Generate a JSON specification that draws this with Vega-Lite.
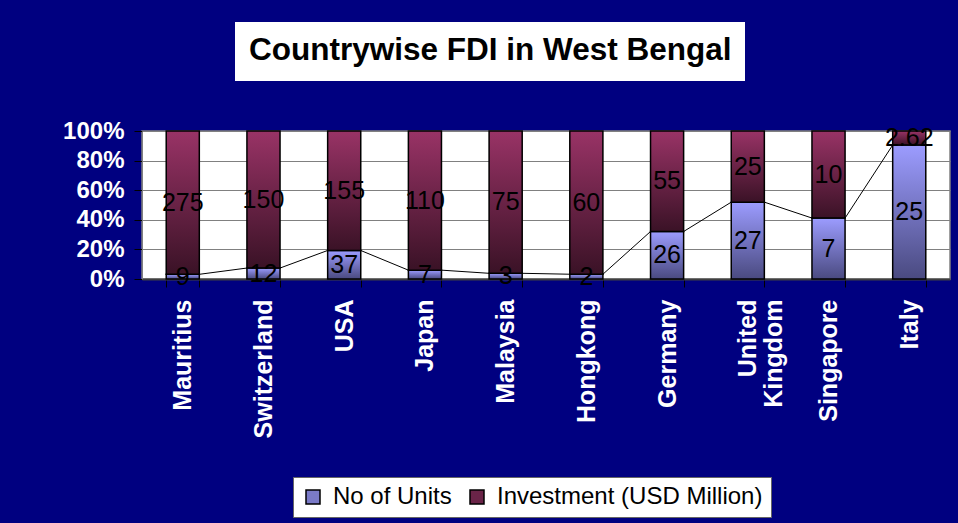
{
  "$schema": "https://vega.github.io/schema/vega-lite/v6.json",
  "background": "#000080",
  "autosize": {"type": "none"},
  "padding": {"left": 142, "top": 131, "right": 8, "bottom": 244},
  "width": 808,
  "height": 148,
  "config": {
    "font": "Liberation Sans",
    "view": {"fill": "white", "stroke": "#808080", "strokeWidth": 1.5},
    "axis": {"labelOverlap": false},
    "axisY": {
      "labelOverlap": false,
      "tickCount": 10,
      "labelColor": "white",
      "labelFont": "Liberation Sans",
      "labelFontSize": 24,
      "labelFontWeight": "bold",
      "labelPadding": 10,
      "tickSize": 8,
      "tickColor": "black",
      "domainColor": "#808080",
      "grid": true,
      "gridColor": "#808080"
    }
  },
  "data": {
    "values": [
      {"country": "Mauritius", "idx": 0, "series": "No of Units", "value": 9},
      {"country": "Mauritius", "idx": 0, "series": "Investment (USD Million)", "value": 275},
      {"country": "Switzerland", "idx": 1, "series": "No of Units", "value": 12},
      {"country": "Switzerland", "idx": 1, "series": "Investment (USD Million)", "value": 150},
      {"country": "USA", "idx": 2, "series": "No of Units", "value": 37},
      {"country": "USA", "idx": 2, "series": "Investment (USD Million)", "value": 155},
      {"country": "Japan", "idx": 3, "series": "No of Units", "value": 7},
      {"country": "Japan", "idx": 3, "series": "Investment (USD Million)", "value": 110},
      {"country": "Malaysia", "idx": 4, "series": "No of Units", "value": 3},
      {"country": "Malaysia", "idx": 4, "series": "Investment (USD Million)", "value": 75},
      {"country": "Hongkong", "idx": 5, "series": "No of Units", "value": 2},
      {"country": "Hongkong", "idx": 5, "series": "Investment (USD Million)", "value": 60},
      {"country": "Germany", "idx": 6, "series": "No of Units", "value": 26},
      {"country": "Germany", "idx": 6, "series": "Investment (USD Million)", "value": 55},
      {"country": "United Kingdom", "idx": 7, "series": "No of Units", "value": 27},
      {"country": "United Kingdom", "idx": 7, "series": "Investment (USD Million)", "value": 25},
      {"country": "Singapore", "idx": 8, "series": "No of Units", "value": 7},
      {"country": "Singapore", "idx": 8, "series": "Investment (USD Million)", "value": 10},
      {"country": "Italy", "idx": 9, "series": "No of Units", "value": 25},
      {"country": "Italy", "idx": 9, "series": "Investment (USD Million)", "value": 2.62}
    ]
  },
  "encoding": {
    "x": {
      "field": "country",
      "type": "nominal",
      "title": null,
      "scale": {
        "domain": ["Mauritius", "Switzerland", "USA", "Japan", "Malaysia", "Hongkong", "Germany", "United Kingdom", "Singapore", "Italy"],
        "paddingInner": 0.59,
        "paddingOuter": 0.3
      },
      "axis": {
        "labelAngle": -90,
        "labelAlign": "right",
        "labelBaseline": "middle",
        "labelColor": "white",
        "labelFont": "Liberation Sans",
        "labelFontSize": 25,
        "labelFontWeight": "bold",
        "labelPadding": 12,
        "labelLineHeight": 26,
        "labelOverlap": false,
        "labelLimit": 0,
        "labelExpr": "datum.label == 'United Kingdom' ? ['United', 'Kingdom'] : datum.label",
        "tickSize": 8,
        "tickColor": "black",
        "tickBand": "extent",
        "domainColor": "#404040",
        "domainWidth": 2
      }
    }
  },
  "layer": [
    {
      "mark": {"type": "bar"},
      "encoding": {
        "y": {
          "field": "value",
          "type": "quantitative",
          "stack": "normalize",
          "scale": {"domain": [0, 1]},
          "axis": {"values": [0, 0.2, 0.4, 0.6, 0.8, 1], "tickCount": 10, "format": ".0%", "labelOverlap": false, "title": null}
        },
        "fill": {
          "field": "series",
          "type": "nominal",
          "scale": {
            "domain": ["No of Units", "Investment (USD Million)"],
            "range": ["#7A7AC8", "#6A2448"]
          },
          "legend": {
            "orient": "none",
            "legendX": 151,
            "legendY": 346,
            "direction": "horizontal",
            "title": null,
            "fillColor": "white",
            "strokeColor": "#666666",
            "padding": 8,
            "symbolType": "square",
            "symbolSize": 196,
            "symbolStrokeColor": "black",
            "symbolStrokeWidth": 1.5,
            "labelFont": "Liberation Sans",
            "labelFontSize": 24,
            "labelColor": "black",
            "labelOffset": 8,
            "labelLimit": 0,
            "columnPadding": 13,
            "encode": {
              "symbols": {
                "update": {
                  "fill": [
                    {"test": "datum.value === 'No of Units'", "value": {"gradient": "linear", "x1": 0, "y1": 0, "x2": 0, "y2": 1, "stops": [{"offset": 0, "color": "#9C9CFF"}, {"offset": 1, "color": "#4A4A80"}]}},
                    {"value": {"gradient": "linear", "x1": 0, "y1": 0, "x2": 0, "y2": 1, "stops": [{"offset": 0, "color": "#993366"}, {"offset": 1, "color": "#3A1226"}]}}
                  ],
                  "stroke": {"value": "black"},
                  "strokeWidth": {"value": 1.5}
                }
              }
            }
          }
        },
        "order": {"field": "series", "sort": "descending"}
      }
    },
    {
      "transform": [
        {"stack": "value", "groupby": ["country"], "sort": [{"field": "series", "order": "descending"}], "offset": "normalize", "as": ["s0", "s1"]},
        {"filter": "datum.series === 'No of Units'"}
      ],
      "mark": {
        "type": "bar",
        "stroke": "black",
        "strokeWidth": 1.5,
        "fill": {"gradient": "linear", "x1": 0, "y1": 0, "x2": 0, "y2": 1, "stops": [{"offset": 0, "color": "#9C9CFF"}, {"offset": 1, "color": "#4A4A80"}]}
      },
      "encoding": {
        "y": {"field": "s0", "type": "quantitative", "axis": {"values": [0, 0.2, 0.4, 0.6, 0.8, 1], "tickCount": 10, "format": ".0%", "labelOverlap": false, "title": null}},
        "y2": {"field": "s1"}
      }
    },
    {
      "transform": [
        {"stack": "value", "groupby": ["country"], "sort": [{"field": "series", "order": "descending"}], "offset": "normalize", "as": ["s0", "s1"]},
        {"filter": "datum.series !== 'No of Units'"}
      ],
      "mark": {
        "type": "bar",
        "stroke": "black",
        "strokeWidth": 1.5,
        "fill": {"gradient": "linear", "x1": 0, "y1": 0, "x2": 0, "y2": 1, "stops": [{"offset": 0, "color": "#993366"}, {"offset": 1, "color": "#3A1226"}]}
      },
      "encoding": {
        "y": {"field": "s0", "type": "quantitative", "axis": {"values": [0, 0.2, 0.4, 0.6, 0.8, 1], "tickCount": 10, "format": ".0%", "labelOverlap": false, "title": null}},
        "y2": {"field": "s1"}
      }
    },
    {
      "transform": [
        {"stack": "value", "groupby": ["country"], "sort": [{"field": "series", "order": "descending"}], "offset": "normalize", "as": ["s0", "s1"]},
        {"filter": "datum.series === 'No of Units'"},
        {"window": [{"op": "lead", "field": "s1", "as": "ns1"}, {"op": "lead", "field": "country", "as": "nc"}], "sort": [{"field": "idx"}]},
        {"filter": "datum.nc != null"}
      ],
      "mark": {"type": "rule", "color": "black", "strokeWidth": 1},
      "encoding": {
        "x": {
          "field": "country",
          "type": "nominal",
          "bandPosition": 1,
          "title": null,
          "scale": {
            "domain": ["Mauritius", "Switzerland", "USA", "Japan", "Malaysia", "Hongkong", "Germany", "United Kingdom", "Singapore", "Italy"],
            "paddingInner": 0.59,
            "paddingOuter": 0.3
          }
        },
        "x2": {"field": "nc", "bandPosition": 0},
        "y": {"field": "s1", "type": "quantitative", "axis": {"values": [0, 0.2, 0.4, 0.6, 0.8, 1], "tickCount": 10, "format": ".0%", "labelOverlap": false, "title": null}},
        "y2": {"field": "ns1"}
      }
    },
    {
      "mark": {"type": "text", "font": "Liberation Sans", "fontSize": 25, "fill": "black"},
      "encoding": {
        "y": {"field": "value", "type": "quantitative", "stack": "normalize", "bandPosition": 0.5, "axis": {"values": [0, 0.2, 0.4, 0.6, 0.8, 1], "tickCount": 10, "format": ".0%", "labelOverlap": false, "title": null}},
        "detail": {"field": "series"},
        "order": {"field": "series", "sort": "descending"},
        "text": {"field": "value", "type": "nominal"}
      }
    },
    {
      "data": {"values": [{"heading": "Countrywise FDI in West Bengal"}]},
      "mark": {"type": "point", "opacity": 0},
      "encoding": {
        "x": {"value": null},
        "shape": {
          "field": "heading",
          "type": "nominal",
          "legend": {
            "orient": "none",
            "legendX": 93,
            "legendY": -109,
            "title": null,
            "fillColor": "white",
            "strokeColor": null,
            "padding": 13.5,
            "symbolSize": 0,
            "symbolOpacity": 0,
            "symbolStrokeWidth": 0,
            "labelOffset": -31,
            "labelFont": "Liberation Sans",
            "labelFontSize": 31.5,
            "labelFontWeight": "bold",
            "labelColor": "black",
            "labelLimit": 0
          }
        }
      }
    }
  ]
}
